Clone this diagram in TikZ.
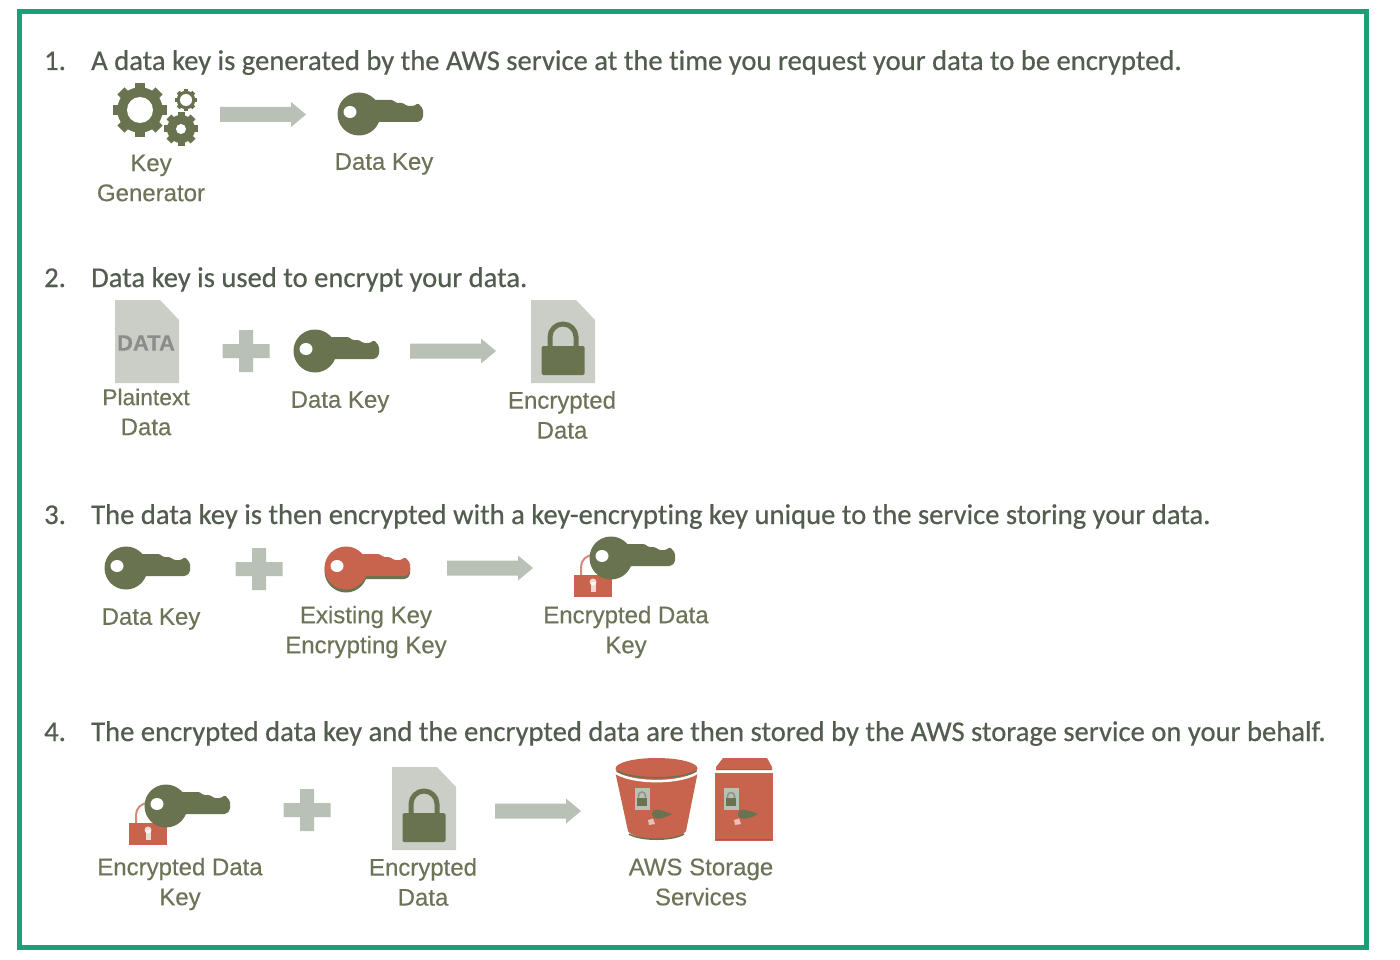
\documentclass[tikz,border=0pt]{standalone}
\usepackage{fontspec}
\setmainfont[FakeBold=0.35]{Liberation Sans}
\newfontfamily\headfont[FakeBold=0.5,Ligatures=NoCommon]{Carlito}
\definecolor{frame}{HTML}{1AA079}
\definecolor{headc}{HTML}{525C4F}
\definecolor{labelc}{HTML}{6C7458}
\definecolor{icon}{HTML}{6A7350}
\definecolor{pale}{HTML}{B9C1B7}
\definecolor{docc}{HTML}{CBCEC6}
\definecolor{redc}{HTML}{C8644E}
\tikzset{
  x=1pt,y=-1pt,
  heading/.style={anchor=base west,inner sep=0,text=headc,font=\headfont\fontsize{28.6}{30}\selectfont},
  caption/.style={anchor=center,inner sep=0,align=center,text=labelc,font=\fontsize{24}{30}\selectfont},
  pics/keyicon/.style={code={
    \fill[#1] (21,0) ellipse (21.5 and 21.5);
    \fill[#1,rounded corners=1.5] (30,-14) -- (55,-14) -- (58,-11) -- (65,-11) -- (69,-8) -- (76,-8) -- (80,-11) -- (85,-5) -- (85,4) -- (81,8) -- (30,8) -- cycle;
    \fill[white] (12,-2) ellipse (6.5 and 6);
  }},
  pics/blockarrow/.style={code={
    \fill[pale] (-43,-7.5) -- (28,-7.5) -- (28,-12.5) -- (43,0) -- (28,12.5) -- (28,7.5) -- (-43,7.5) -- cycle;
  }},
  pics/plusicon/.style={code={
    \fill[pale] (-23.5,-7) -- (-7,-7) -- (-7,-21) -- (7,-21) -- (7,-7) -- (23.5,-7) -- (23.5,7) -- (7,7) -- (7,21) -- (-7,21) -- (-7,7) -- (-23.5,7) -- cycle;
  }},
  pics/docicon/.style={code={
    \fill[docc] (0,0) -- (45,0) -- (64,20) -- (64,83) -- (0,83) -- cycle;
  }},
  pics/bigpadlock/.style={code={
    \draw[icon,line width=5] (-13,49) -- (-13,37) arc[start angle=180,end angle=0,x radius=13,y radius=-13] -- (13,49);
    \fill[icon,rounded corners=1.5] (-21.5,46) rectangle (21.5,75);
  }},
  pics/redpadlock/.style={code={
    \draw[redc!75!white,line width=2] (-12,22) -- (-12,12) arc[start angle=180,end angle=60,x radius=12,y radius=-12];
    \fill[redc] (-19,20) rectangle (19,42);
    \fill[white,opacity=.75] (0,27) circle (3.5);
    \fill[white,opacity=.75] (-2.5,27) rectangle (2.5,37);
  }},
  pics/smallsafe/.style={code={
    \fill[pale] (-7.5,-11) rectangle (7.5,11);
    \draw[icon!55!pale,line width=1.6] (-3.5,-1) -- (-3.5,-3) arc[start angle=180,end angle=0,x radius=3.5,y radius=-3.5] -- (3.5,-1);
    \fill[icon] (-5,-1) rectangle (5,7);
  }},
  pics/tinykey/.style={code={
    \fill[icon] (-8,0) .. controls (-8,-5) and (-3,-5) .. (0,-4) -- (10,-1) -- (12,0) -- (6,3) -- (0,4.5) .. controls (-4,5) and (-8,4) .. (-8,0) -- cycle;
    \fill[white,opacity=.6] (-12,6) -- (-7,4.5) -- (-5,10) -- (-11,11) -- cycle;
  }},
}
\newcommand{\gearshape}[5]{%
  \foreach \ang in {0,#2,...,359}{
    \fill[icon,rotate around={\ang:(#1)}] ([shift={(#1)}]-#5,-#3) rectangle ([shift={(#1)}]#5,0);
  }
  \fill[icon,even odd rule] (#1) circle (#3-#5*0.85) (#1) circle (#4);
  \fill[white] (#1) circle (#4);
}
\begin{document}
\begin{tikzpicture}
\useasboundingbox (0,0) rectangle (1400,960);
\fill[white] (0,0) rectangle (1400,960);
\draw[frame,line width=5] (19,12) rectangle (1366,947);

% headings
\node[heading] (n1) at (44,70) {1.};
\node[heading] (h1) at (91,70) {A data key is generated by the AWS service at the time you request your data to be encrypted.};
\node[heading] (n2) at (44,287) {2.};
\node[heading] (h2) at (91,287) {Data key is used to encrypt your data.};
\node[heading] (n3) at (44,524) {3.};
\node[heading] (h3) at (91,524) {The data key is then encrypted with a key-encrypting key unique to the service storing your data.};
\node[heading] (n4) at (44,741) {4.};
\node[heading] (h4) at (91,741) {The encrypted data key and the encrypted data are then stored by the AWS storage service on your behalf.};

% row 1
\gearshape{140,110}{45}{27}{13}{5}
\gearshape{186,100}{45}{11}{6}{2}
\gearshape{181,129}{45}{17}{5}{3.5}
\pic at (263,114.5) {blockarrow};
\pic at (338,114) {keyicon=icon};
\node[caption] (l1a) at (151,178) {Key\\Generator};
\node[caption] (l1b) at (384,164) {Data Key};

% row 2
\pic at (115,300) {docicon};
\node[inner sep=0,text=black!45,font=\bfseries\fontsize{22}{24}\selectfont] (dt) at (146,343) {DATA};
\pic at (246,351) {plusicon};
\pic at (294,351) {keyicon=icon};
\pic at (453,351) {blockarrow};
\pic at (531,300) {docicon};
\pic at (563,300) {bigpadlock};
\node[caption] (l2a) at (146,412) {{\fontsize{22.8}{30}\selectfont Plaintext}\\Data};
\node[caption] (l2b) at (340,402) {Data Key};
\node[caption] (l2c) at (562,415) {Encrypted\\Data};

% row 3
\pic at (105,568) {keyicon=icon};
\pic at (259,569) {plusicon};
\pic at (325,571) {keyicon=icon};
\pic at (325,568) {keyicon=redc};
\pic at (490,568) {blockarrow};
\pic at (593,555) {redpadlock};
\pic at (590,558) {keyicon=icon};
\node[caption] (l3a) at (151,619) {Data Key};
\node[caption] (l3b) at (366,632) {Existing Key\\Encrypting Key};
\node[caption] (l3c) at (626,632) {Encrypted Data\\Key};

% row 4
\pic at (148,803) {redpadlock};
\pic at (145,806) {keyicon=icon};
\pic at (307,810) {plusicon};
\pic at (392,767) {docicon};
\pic at (424,767) {bigpadlock};
\pic at (538,811) {blockarrow};
\fill[redc] (615,771) -- (698,771) -- (686,831) .. controls (678,842) and (636,842) .. (628,831) -- cycle;
\draw[icon,line width=1.5] (629,834) .. controls (640,841) and (673,841) .. (684,834);
\draw[white,line width=2.5] (613,771) .. controls (630,784.5) and (683,784.5) .. (700,771);
\fill[redc] (656.5,768.5) ellipse (41 and 10.5);
\draw[icon,line width=1.5] (617,771) .. controls (632,780) and (681,780) .. (696,771);
\pic at (642,798.5) {smallsafe};
\pic at (660,814) {tinykey};
\fill[redc] (723,758) -- (767,758) -- (772,767) -- (772,770) -- (716,770) -- (716,767) -- cycle;
\draw[icon,line width=1.5] (717,769.5) -- (771,769.5);
\fill[redc] (715,773) rectangle (773,841);
\draw[icon,line width=1.5] (716,839.5) -- (772,839.5);
\pic at (731,799) {smallsafe};
\pic at (746,814) {tinykey};
\node[caption] (l4a) at (180,884) {Encrypted Data\\Key};
\node[caption] (l4b) at (423,882) {Encrypted\\Data};
\node[caption] (l4c) at (701,882) {AWS Storage\\Services};
\end{tikzpicture}
\end{document}
